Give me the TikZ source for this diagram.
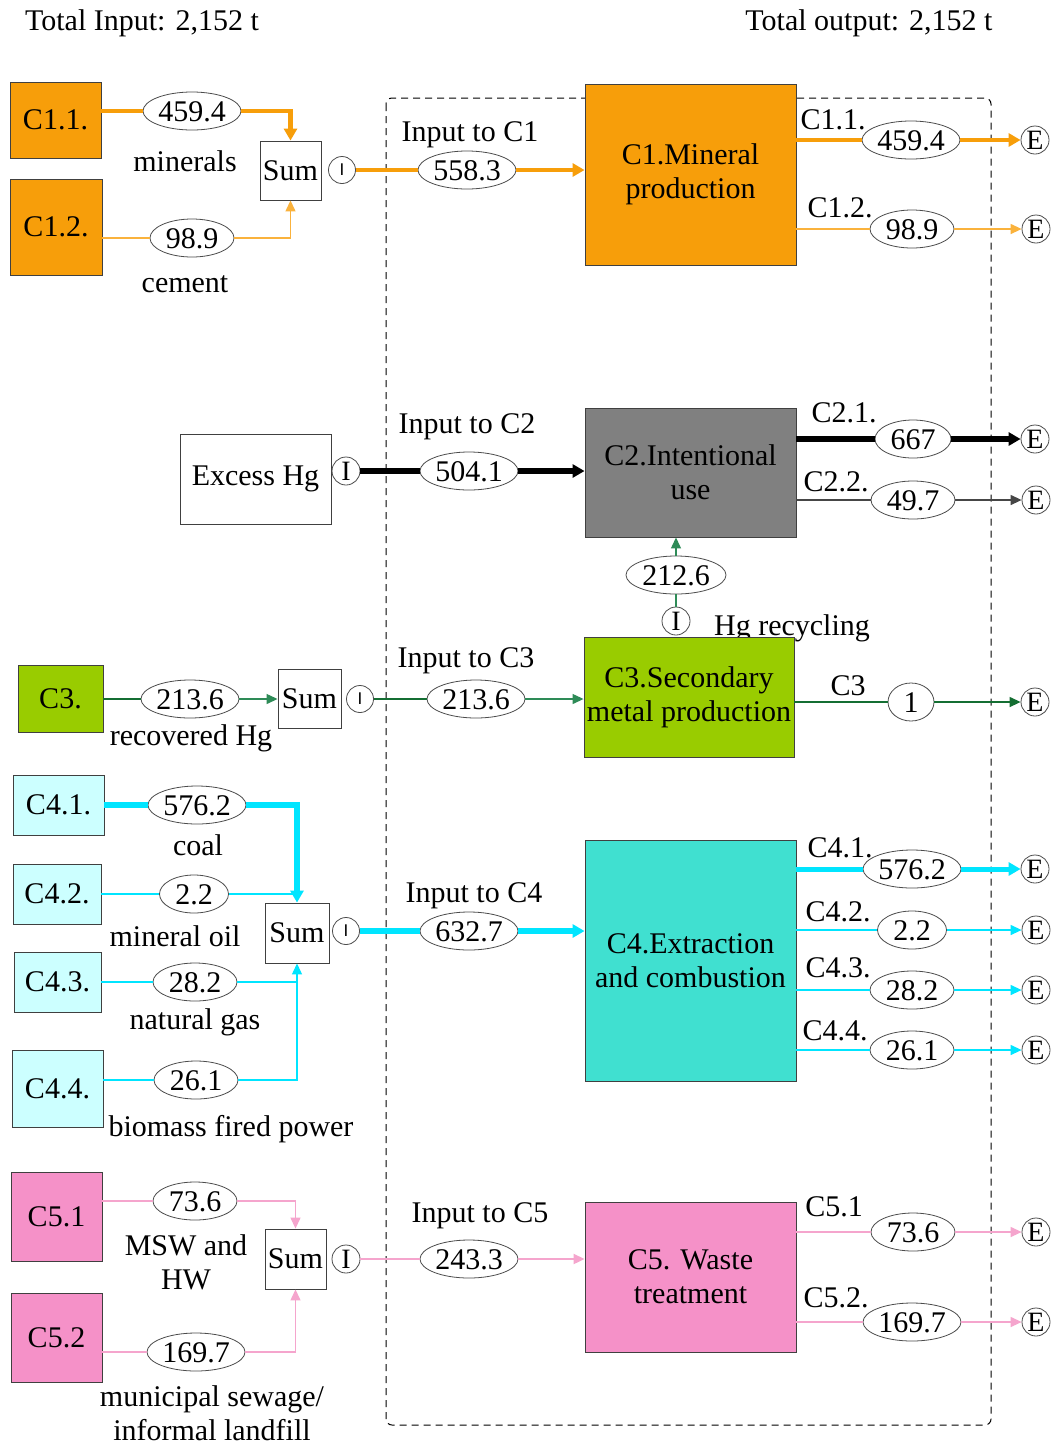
\documentclass[tikz,border=0pt]{standalone}
\usepackage{fontspec}
\setmainfont{Liberation Serif}
\newfontfamily\sansI{Liberation Sans}
\usetikzlibrary{arrows.meta,shapes.geometric,calc}
\definecolor{orng}{RGB}{247,158,10}
\definecolor{orngl}{RGB}{250,178,60}
\definecolor{grayb}{RGB}{128,128,128}
\definecolor{limeb}{RGB}{153,204,0}
\definecolor{greenl}{RGB}{20,110,50}
\definecolor{greenr}{RGB}{46,139,87}
\definecolor{cyanl}{RGB}{204,255,255}
\definecolor{turq}{RGB}{64,224,208}
\definecolor{cyanline}{RGB}{0,229,255}
\definecolor{pinkb}{RGB}{245,145,200}
\definecolor{pinkl}{RGB}{245,165,205}
\definecolor{darkl}{RGB}{70,70,70}
\begin{document}
\begin{tikzpicture}[x=1pt,y=-1pt,
  every node/.style={font=\fontsize{30}{34}\selectfont},
  lbl/.style={inner sep=0pt, text height=20pt, text depth=0pt},
  lbl2/.style={inner sep=0pt, align=center},
  blk/.style={draw=black!75, line width=0.9pt, inner sep=0pt, align=center},
  val/.style={draw=black!70, line width=0.8pt, ellipse, inner sep=0pt, minimum height=38pt, minimum width=#1, text height=20pt, text depth=0pt, fill=white},
  ecirc/.style={draw=black!70, line width=0.8pt, circle, inner sep=0pt, minimum size=28pt, font=\fontsize{28}{28}\selectfont, text height=19pt, text depth=0pt},
  isml/.style={draw=black!70, line width=0.8pt, circle, inner sep=0pt, minimum size=27pt, font=\sansI\fontsize{17}{17}\selectfont},
  tipA/.style={-{Triangle[length=12pt,width=13pt]}},
  tipB/.style={-{Triangle[length=11pt,width=10pt]}},
  thin/.style={line width=1.3pt},
]
\useasboundingbox (0,0) rectangle (1057,1444);
\fill[white] (0,0) rectangle (1057,1444);

\node[lbl] (tin) at (142,20) {Total Input: 2,152 t};
\node[lbl] (tout) at (869,20) {Total output: 2,152 t};

\draw[dash pattern=on 7pt off 5pt, line width=1pt, rounded corners=6pt, black] (386,98) rectangle (991,1425);

% ---------- C1
\node[blk, fill=orng, minimum width=91pt, minimum height=76pt] (c11) at (55.5,120) {C1.1.};
\node[blk, fill=orng, minimum width=92pt, minimum height=96pt] (c12) at (56,227) {C1.2.};
\node[val=98pt] (v11) at (192,111) {459.4};
\node[val=84pt] (v12) at (192,238) {98.9};
\node[lbl] (lmin) at (185,161) {minerals};
\node[lbl] (lcem) at (185,282) {cement};
\node[blk, minimum width=61pt, minimum height=59pt] (s1) at (290.5,170.5) {Sum};
\node[isml] (i1) at (342,170) {I};
\node[val=98pt] (vin1) at (467,170) {558.3};
\node[lbl] (lin1) at (470,131) {Input to C1};
\node[blk, fill=orng, minimum width=211pt, minimum height=181pt] (p1) at (690.5,174.5) {C1.Mineral\\production};
\node[lbl] (lo11) at (833,119) {C1.1.};
\node[val=98pt] (vo11) at (911,140) {459.4};
\node[ecirc] (e11) at (1035,140) {E};
\node[lbl] (lo12) at (840,207) {C1.2.};
\node[val=84pt] (vo12) at (912,229) {98.9};
\node[ecirc] (e12) at (1036,229) {E};

\draw[orng, line width=4.5pt] (c11.east |- v11) -- (v11);
\draw[orng, line width=4.5pt, tipA] (v11) -| (s1.north);
\draw[orngl, thin] (c12.east |- v12) -- (v12);
\draw[orngl, thin, tipB] (v12) -| (s1.south);
\draw[orng, line width=4.5pt] (i1) -- (vin1);
\draw[orng, line width=4.5pt, tipA] (vin1) -- (p1.west |- vin1);
\draw[orng, line width=4pt] (p1.east |- vo11) -- (vo11);
\draw[orng, line width=4pt, tipA] (vo11) -- (e11);
\draw[orngl, thin] (p1.east |- vo12) -- (vo12);
\draw[orngl, thin, tipB] (vo12) -- (e12);

% ---------- C2
\node[blk, minimum width=151pt, minimum height=90pt] (exc) at (255.5,479) {Excess Hg};
\node[ecirc] (i2) at (346,471) {I};
\node[val=98pt] (vin2) at (469,471) {504.1};
\node[lbl] (lin2) at (467,423) {Input to C2};
\node[blk, fill=grayb, minimum width=211pt, minimum height=129pt] (p2) at (690.5,472.5) {C2.Intentional\\use};
\node[lbl] (lo21) at (844,412) {C2.1.};
\node[val=76pt] (vo21) at (913,439) {667};
\node[ecirc] (e21) at (1035,439) {E};
\node[lbl] (lo22) at (836,481) {C2.2.};
\node[val=84pt] (vo22) at (913,500) {49.7};
\node[ecirc] (e22) at (1036,500) {E};

\draw[black, line width=6pt] (i2) -- (vin2);
\draw[black, line width=6pt, tipA] (vin2) -- (p2.west |- vin2);
\draw[black, line width=6pt] (p2.east |- vo21) -- (vo21);
\draw[black, line width=6pt, tipA] (vo21) -- (e21);
\draw[darkl, thin] (p2.east |- vo22) -- (vo22);
\draw[darkl, thin, tipB] (vo22) -- (e22);

% recycling
\node[ecirc] (ir) at (676,621) {I};
\node[val=100pt] (vr) at (676,575) {212.6};
\node[lbl] (lrec) at (792,625) {Hg recycling};
\draw[greenr, thin] (ir) -- (vr);
\draw[greenr, thin, tipB] (vr) -- (p2.south -| vr);

% ---------- C3
\node[blk, fill=limeb, minimum width=85pt, minimum height=67pt] (c3s) at (60.5,699) {C3.};
\node[val=98pt] (v3) at (190,699) {213.6};
\node[lbl] (lrecov) at (191,735) {recovered Hg};
\node[blk, minimum width=63pt, minimum height=59pt] (s3) at (309.5,699) {Sum};
\node[isml] (i3) at (360,699) {I};
\node[val=98pt] (vin3) at (476,699) {213.6};
\node[lbl] (lin3) at (466,657) {Input to C3};
\node[blk, fill=limeb, minimum width=210pt, minimum height=120pt] (p3) at (689,697) {C3.Secondary\\metal production};
\node[lbl] (lo3) at (848,685) {C3};
\node[val=46pt] (vo3) at (911,702) {1};
\node[ecirc] (e3) at (1035,702) {E};

\draw[greenl, thin] (c3s.east |- v3) -- (v3);
\draw[greenr, thin, tipB] (v3) -- (s3.west);
\draw[greenl, thin] (i3) -- (vin3);
\draw[greenr, thin, tipB] (vin3) -- (p3.west |- vin3);
\draw[greenl, thin] (p3.east |- vo3) -- (vo3);
\draw[greenl, thin, tipB] (vo3) -- (e3);

% ---------- C4
\node[blk, fill=cyanl, minimum width=91pt, minimum height=60pt] (c41) at (58.5,805) {C4.1.};
\node[blk, fill=cyanl, minimum width=88pt, minimum height=60pt] (c42) at (57,894) {C4.2.};
\node[blk, fill=cyanl, minimum width=87pt, minimum height=60pt] (c43) at (57.5,982) {C4.3.};
\node[blk, fill=cyanl, minimum width=91pt, minimum height=77pt] (c44) at (57.5,1088.5) {C4.4.};
\node[val=98pt] (v41) at (197,805) {576.2};
\node[val=69pt] (v42) at (194,894) {2.2};
\node[val=84pt] (v43) at (195,982) {28.2};
\node[val=84pt] (v44) at (196,1080) {26.1};
\node[lbl] (lcoal) at (198,845) {coal};
\node[lbl] (loil) at (175,936) {mineral oil};
\node[lbl] (lgas) at (195,1019) {natural gas};
\node[lbl] (lbio) at (231,1126) {biomass fired power};
\node[blk, minimum width=64pt, minimum height=60pt] (s4) at (297,933) {Sum};
\node[isml] (i4) at (346,931) {I};
\node[val=98pt] (vin4) at (469,931) {632.7};
\node[lbl] (lin4) at (474,892) {Input to C4};
\node[blk, fill=turq, minimum width=211pt, minimum height=241pt] (p4) at (690.5,960.5) {C4.Extraction\\and combustion};
\node[lbl] (lo41) at (840,847) {C4.1.};
\node[lbl] (lo42) at (838,911) {C4.2.};
\node[lbl] (lo43) at (838,967) {C4.3.};
\node[lbl] (lo44) at (835,1030) {C4.4.};
\node[val=98pt] (vo41) at (912,869) {576.2};
\node[val=69pt] (vo42) at (912,930) {2.2};
\node[val=84pt] (vo43) at (912,990) {28.2};
\node[val=84pt] (vo44) at (912,1050) {26.1};
\node[ecirc] (e41) at (1035,869) {E};
\node[ecirc] (e42) at (1036,930) {E};
\node[ecirc] (e43) at (1036,990) {E};
\node[ecirc] (e44) at (1036,1050) {E};

\draw[cyanline, line width=6pt] (c41.east |- v41) -- (v41);
\draw[cyanline, line width=6pt, tipA] (v41) -| (s4.north);
\draw[cyanline, thin] (c42.east |- v42) -- (v42);
\draw[cyanline, thin] (v42) -- (s4.north |- v42);
\draw[cyanline, thin] (c43.east |- v43) -- (v43);
\draw[cyanline, thin, tipB] (v43) -| (s4.south);
\draw[cyanline, thin] (c44.east |- v44) -- (v44);
\draw[cyanline, thin] (v44) -| (s4.south |- v43);
\draw[cyanline, line width=6pt] (i4) -- (vin4);
\draw[cyanline, line width=6pt, tipA] (vin4) -- (p4.west |- vin4);
\draw[cyanline, line width=5pt] (p4.east |- vo41) -- (vo41);
\draw[cyanline, line width=5pt, tipA] (vo41) -- (e41);
\draw[cyanline, thin] (p4.east |- vo42) -- (vo42);
\draw[cyanline, thin, tipB] (vo42) -- (e42);
\draw[cyanline, thin] (p4.east |- vo43) -- (vo43);
\draw[cyanline, thin, tipB] (vo43) -- (e43);
\draw[cyanline, thin] (p4.east |- vo44) -- (vo44);
\draw[cyanline, thin, tipB] (vo44) -- (e44);

% ---------- C5
\node[blk, fill=pinkb, minimum width=91pt, minimum height=89pt] (c51) at (56.5,1216.5) {C5.1};
\node[blk, fill=pinkb, minimum width=91pt, minimum height=89pt] (c52) at (56.5,1337.5) {C5.2};
\node[val=84pt] (v51) at (195,1201) {73.6};
\node[val=98pt] (v52) at (196,1352) {169.7};
\node[lbl2] (lmsw) at (186,1262) {MSW and\\HW};
\node[lbl2] (lsew) at (212,1413) {municipal sewage/\\informal landfill};
\node[blk, minimum width=61pt, minimum height=60pt] (s5) at (295.5,1259) {Sum};
\node[ecirc] (i5) at (346,1259) {I};
\node[val=98pt] (vin5) at (469,1259) {243.3};
\node[lbl] (lin5) at (480,1212) {Input to C5};
\node[blk, fill=pinkb, minimum width=211pt, minimum height=150pt] (p5) at (690.5,1277) {C5. Waste\\treatment};
\node[lbl] (lo51) at (834,1206) {C5.1};
\node[lbl] (lo52) at (836,1297) {C5.2.};
\node[val=84pt] (vo51) at (913,1232) {73.6};
\node[val=98pt] (vo52) at (912,1322) {169.7};
\node[ecirc] (e51) at (1036,1232) {E};
\node[ecirc] (e52) at (1036,1322) {E};

\draw[pinkl, thin] (c51.east |- v51) -- (v51);
\draw[pinkl, thin, tipB] (v51) -| (s5.north);
\draw[pinkl, thin] (c52.east |- v52) -- (v52);
\draw[pinkl, thin, tipB] (v52) -| (s5.south);
\draw[pinkl, line width=2pt] (i5) -- (vin5);
\draw[pinkl, line width=2pt, tipB] (vin5) -- (p5.west |- vin5);
\draw[pinkl, thin] (p5.east |- vo51) -- (vo51);
\draw[pinkl, thin, tipB] (vo51) -- (e51);
\draw[pinkl, thin] (p5.east |- vo52) -- (vo52);
\draw[pinkl, thin, tipB] (vo52) -- (e52);
\end{tikzpicture}
\end{document}
